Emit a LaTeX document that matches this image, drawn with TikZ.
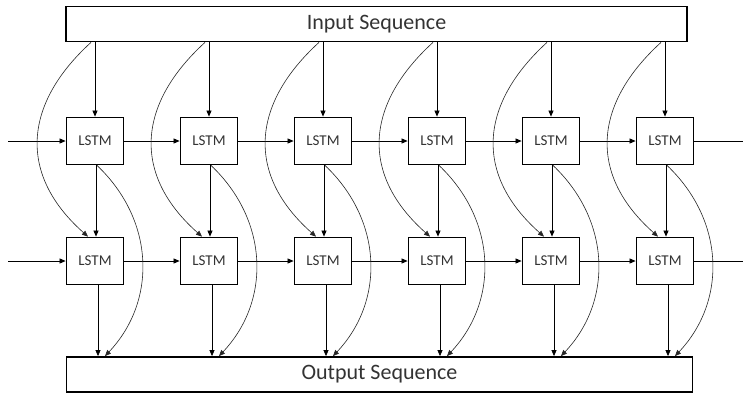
\documentclass[tikz,border=0pt]{standalone}
\usepackage{fontspec}
\setmainfont{Carlito}
\usetikzlibrary{positioning,arrows.meta,calc}
\tikzset{
  seqbox/.style={draw,line width=1.8pt,minimum width=621pt,minimum height=35pt,inner sep=0pt,font=\fontsize{22}{26}\selectfont,text=black!80},
  lstm/.style={draw,line width=1.8pt,minimum width=57pt,minimum height=47pt,inner sep=0pt,font=\fontsize{15}{18}\selectfont,text=black!80},
  arr/.style={-{Triangle[length=6pt,width=5pt]},line width=0.7pt},
  skip/.style={-{Triangle[length=6pt,width=5pt]},line width=0.6pt,black!85}
}

\begin{document}
\begin{tikzpicture}[x=1pt,y=-1pt]
\useasboundingbox (0,0) rectangle (743,397);
\node[seqbox] (in) at (376.5,24) {Input Sequence};
\node[seqbox,minimum width=626pt] (out) at (379.5,374.5) {Output Sequence};

% two stacked LSTM layers
\foreach \i in {0,...,5}{
  \node[lstm] (a\i) at ({95+114*\i},141) {LSTM};
  \node[lstm] (b\i) at ({95+114*\i},261) {LSTM};
}
\coordinate (la) at (8,141);
\coordinate (lb) at (8,261);
\coordinate (ra) at (743,141);
\coordinate (rb) at (743,261);

% recurrent connections
\draw[arr] (la) -- (a0);
\draw[arr] (lb) -- (b0);
\foreach \j [count=\i] in {0,...,4}{
  \draw[arr] (a\j) -- (a\i);
  \draw[arr] (b\j) -- (b\i);
}
\draw[line width=0.7pt] (a5) -- (ra);
\draw[line width=0.7pt] (b5) -- (rb);

% layer connections and skips
\foreach \i in {0,...,5}{
  \draw[arr] (in.south -| a\i) -- (a\i);
  \draw[arr] ($(a\i.south)+(1,0)$) -- ($(b\i.north)+(1,0)$);
  \draw[arr] ($(b\i.south)+(3,0)$) -- ($(out.north -| b\i)+(3,0)$);
  \draw[skip] ($(in.south -| a\i)+(-4,0)$) .. controls +(-68,62) and +(-70,-62) .. ($(b\i.north)+(-7,0)$);
  \draw[skip] ($(a\i.south)+(2,0)$) .. controls +(58,55) and +(52,-55) .. ($(out.north -| a\i)+(10,0)$);
}
\end{tikzpicture}
\end{document}
